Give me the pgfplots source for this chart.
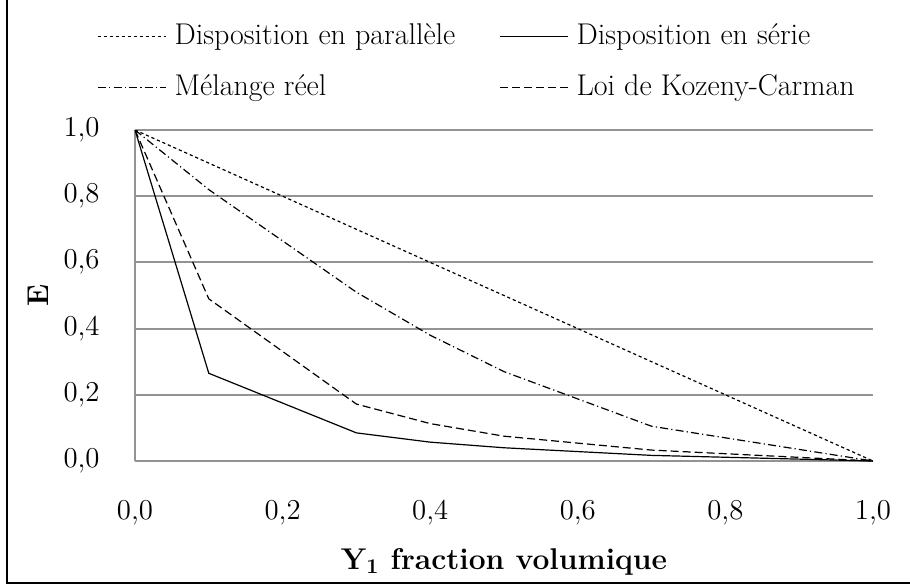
\documentclass[border=0pt]{standalone}
\usepackage{pgfplots}
\pgfplotsset{compat=1.18}
\begin{document}
\fontsize{15}{18}\selectfont
\begin{tikzpicture}
\useasboundingbox (-67.5pt,-62.5pt) rectangle (387.5pt,230.5pt);
\draw[line width=1pt] (-64pt,230.5pt) -- (-64pt,-61pt) -- (387.5pt,-61pt);
\begin{axis}[
  scale only axis,
  width=369pt, height=165.5pt,
  xmin=0, xmax=1, ymin=0, ymax=1,
  xtick={0,0.2,0.4,0.6,0.8,1.0},
  ytick={0,0.2,0.4,0.6,0.8,1.0},
  major tick length=0pt,
  ymajorgrids,
  grid style={gray!85, line width=1pt},
  axis line style={gray!85, line width=1pt},
  axis x line*=bottom,
  axis y line*=left,
  separate axis lines,
  x axis line style={draw=none},
  tick label style={font=\fontsize{15}{18}\selectfont},
  /pgf/number format/.cd, use comma, fixed, fixed zerofill, precision=1,
  /pgfplots/.cd,
  xticklabel style={yshift=-15pt},
  yticklabel style={xshift=-12.5pt},
  xlabel={\textbf{Y\textsubscript{1} fraction volumique}},
  ylabel={\textbf{E}},
  xlabel style={at={(axis description cs:0.5,-0.305)}, anchor=center, font=\fontsize{15}{18}\selectfont},
  ylabel style={at={(axis description cs:-0.131,0.5)}, anchor=center, font=\fontsize{15}{18}\selectfont},
  legend columns=2,
  legend style={draw=none, fill=none, at={(axis description cs:-0.0515,1.335)}, anchor=north west,
    inner sep=0pt, font=\fontsize{15}{18}\selectfont, row sep=9pt,
    /tikz/every odd column/.append style={column sep=2pt},
    /tikz/every even column/.append style={column sep=20pt},
    legend cell align=left},
  legend image code/.code={\draw[#1] (0pt,0pt) -- (34pt,0pt);},
]
\addplot[black, line width=0.6pt, dash pattern=on 1.6pt off 1.4pt] table {
x y
0 1
0.1 0.9
0.3 0.7
0.4 0.6
0.5 0.5
0.7 0.3
1.0 0
};
\addlegendentry{Disposition en parallèle}
\addplot[black, line width=0.6pt] table {
x y
0 1
0.1 0.265
0.3 0.085
0.4 0.057
0.5 0.040
0.7 0.017
1.0 0
};
\addlegendentry{Disposition en série}
\addplot[black, line width=0.6pt, dash pattern=on 4pt off 1.6pt on 0.6pt off 1.6pt] table {
x y
0 1
0.1 0.82
0.3 0.51
0.4 0.38
0.5 0.27
0.7 0.105
1.0 0
};
\addlegendentry{Mélange réel}
\addplot[black, line width=0.6pt, dash pattern=on 4pt off 2pt] table {
x y
0 1
0.1 0.49
0.3 0.172
0.4 0.113
0.5 0.075
0.7 0.033
1.0 0
};
\addlegendentry{Loi de Kozeny-Carman}
\end{axis}
\end{tikzpicture}
\end{document}
